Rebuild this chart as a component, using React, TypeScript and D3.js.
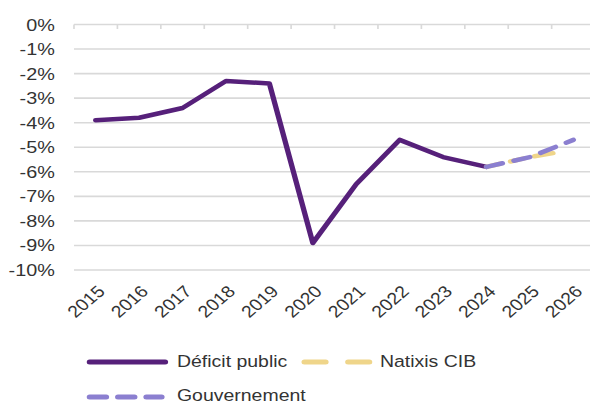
import React from "react";
import * as d3 from "d3";

const years = ["2015","2016","2017","2018","2019","2020","2021","2022","2023","2024","2025","2026"];
const deficitYears = ["2015","2016","2017","2018","2019","2020","2021","2022","2023","2024"];
const deficitValues = [-3.9, -3.8, -3.4, -2.3, -2.4, -8.9, -6.5, -4.7, -5.4, -5.8];
const forecastYears = ["2024","2025","2026"];
const natixisValues = [-5.8, -5.4, -5.1];
const gouvValues = [-5.8, -5.4, -4.7];
const yTicks = [0, -1, -2, -3, -4, -5, -6, -7, -8, -9, -10];

const SX = 1.18;
const W = 590 / SX;
const H = 404;
const FONT = "'Liberation Sans', Arial, sans-serif";
const TEXT = "#333";

export default function App() {
  const left = 62.7;
  const band = 36.8;
  const x = d3.scaleBand<string>().domain(years).range([left, left + band * years.length]).padding(0);
  const y = d3.scaleLinear().domain([-10, 0]).range([270, 24.5]);
  const cx = (yr: string) => (x(yr) as number) + x.bandwidth() / 2;

  const line = d3.line<[string, number]>().x(d => cx(d[0])).y(d => y(d[1]));
  const deficit = line(deficitYears.map((yr, i) => [yr, deficitValues[i]] as [string, number])) || "";
  const natixis = line(forecastYears.map((yr, i) => [yr, natixisValues[i]] as [string, number])) || "";
  const gouv = line(forecastYears.map((yr, i) => [yr, gouvValues[i]] as [string, number])) || "";

  const boundaries = years.map(yr => x(yr) as number).concat([left + band * years.length]);

  return (
    <svg width={590} height={404} viewBox={`0 0 ${W} ${H}`} preserveAspectRatio="none"
      style={{ position: "absolute", left: 0, top: 0, background: "#fff" }}>
      {yTicks.map(t => (
        <g key={t}>
          <line x1={left} x2={W} y1={y(t)} y2={y(t)} stroke="#d9d9d9" strokeWidth={1.6} />
          <text x={46.5} y={y(t)} dy="0.36em" textAnchor="end" fontFamily={FONT} fontSize={16.8} fill={TEXT}>
            {`${t}%`}
          </text>
        </g>
      ))}
      {boundaries.map((b, i) => (
        <line key={i} x1={b} x2={b} y1={y(0)} y2={y(0) + 4.5} stroke="#d9d9d9" strokeWidth={1.4} />
      ))}
      {years.map(yr => (
        <text key={yr} transform={`translate(${cx(yr) + 4.7},${288.5}) rotate(-45)`} textAnchor="end"
          dy="0.35em" fontFamily={FONT} fontSize={16.5} fill={TEXT}>{yr}</text>
      ))}
      <path d={deficit} fill="none" stroke="#56207a" strokeWidth={4.5} strokeLinejoin="round" strokeLinecap="round" />
      <path d={natixis} fill="none" stroke="#efd58a" strokeWidth={4.5} strokeDasharray="12 9 12 9 16 40" strokeLinecap="round" />
      <path d={gouv} fill="none" stroke="#8b7fd0" strokeWidth={4.5} strokeDasharray="14 10" strokeLinecap="round" />

      <g fontFamily={FONT} fontSize={16.5} fill={TEXT}>
        <line x1={76} x2={140} y1={362} y2={362} stroke="#56207a" strokeWidth={5} strokeLinecap="round" />
        <text x={150} y={367.5}>Déficit public</text>
        <line x1={258} x2={313} y1={362} y2={362} stroke="#efd58a" strokeWidth={5} strokeDasharray="18 19" strokeLinecap="round" />
        <text x={322} y={367.5}>Natixis CIB</text>
        <line x1={76} x2={137} y1={397} y2={397} stroke="#8b7fd0" strokeWidth={5} strokeDasharray="14 10" strokeLinecap="round" />
        <text x={150} y={401.5}>Gouvernement</text>
      </g>
    </svg>
  );
}
